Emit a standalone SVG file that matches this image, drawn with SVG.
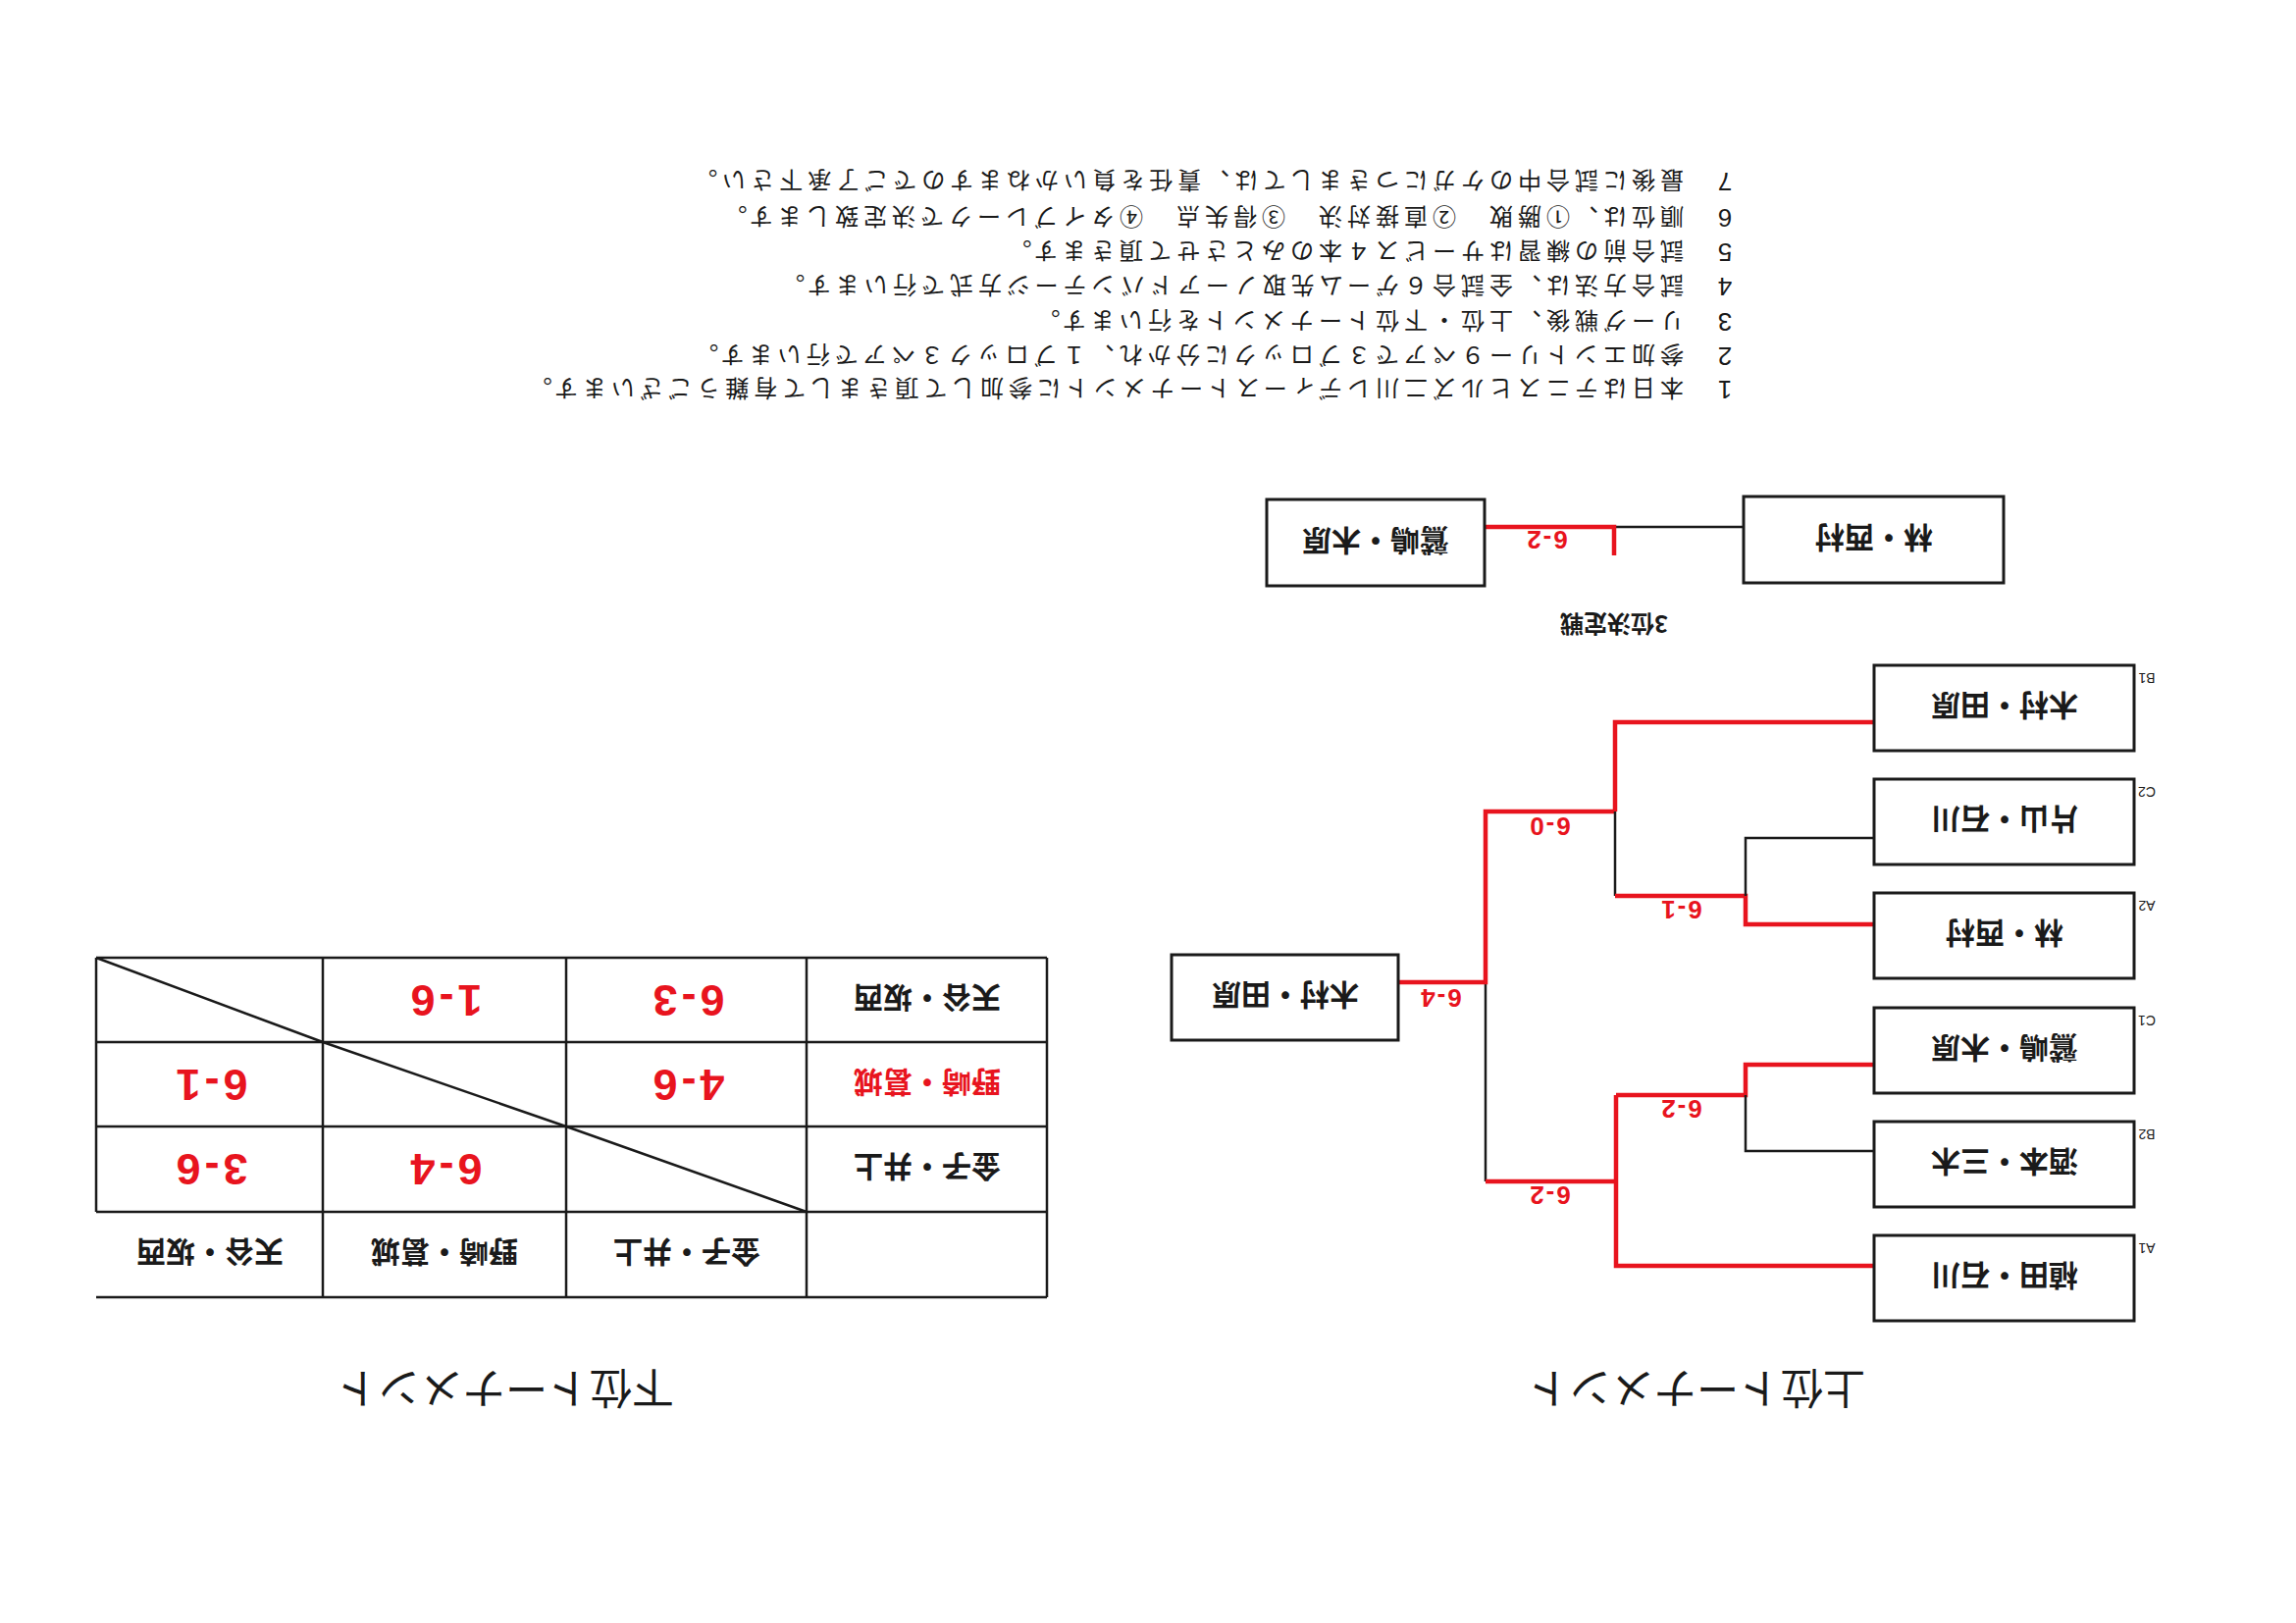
<svg xmlns="http://www.w3.org/2000/svg" width="2340" height="1654" viewBox="0 0 2340 1654">
<style>
.box{fill:#fff;stroke:#1a1a1a;stroke-width:3}
.blk{stroke:#1a1a1a;stroke-width:2.5;fill:none}
.red{stroke:#e8141e;stroke-width:4.5;fill:none}
.tl{stroke:#1a1a1a;stroke-width:2.5;fill:none}
.name{font-family:"Noto Sans CJK JP","Noto Sans CJK SC",sans-serif;font-weight:700;font-size:30px;fill:#1a1a1a;text-anchor:middle;dominant-baseline:central}
.sc{font-family:"Liberation Sans",Arial,sans-serif;font-weight:700;font-size:26px;fill:#e8141e;text-anchor:middle;dominant-baseline:central;letter-spacing:2px}
.big{font-family:"Liberation Sans",Arial,sans-serif;font-weight:700;font-size:45px;fill:#e8141e;text-anchor:middle;dominant-baseline:central;letter-spacing:4px}
.lab{font-family:"Liberation Sans",Arial,sans-serif;font-size:14px;fill:#1a1a1a;text-anchor:middle;dominant-baseline:central}
.note{font-family:"Noto Sans CJK JP","Noto Sans CJK SC",sans-serif;font-size:24px;letter-spacing:5px;fill:#1a1a1a;dominant-baseline:central}
.num{font-family:"Liberation Sans",Arial,sans-serif;font-size:26px;fill:#1a1a1a;text-anchor:middle;dominant-baseline:central}
.head{font-family:"Noto Sans CJK JP","Noto Sans CJK SC",sans-serif;font-size:43px;fill:#1a1a1a;text-anchor:middle;dominant-baseline:central}
.cap{font-family:"Noto Sans CJK JP","Noto Sans CJK SC",sans-serif;font-weight:700;font-size:24px;fill:#1a1a1a;text-anchor:middle;dominant-baseline:central}
</style>
<rect x="0" y="0" width="2340" height="1654" fill="#fff"/>
<g id="page" transform="rotate(180 1170 827)">
  <g id="headings">
    <text class="head" x="611" y="236">上位トーナメント</text>
    <text class="head" x="1825" y="236">下位トーナメント</text>
  </g>
  <g id="connectors">
    <path class="blk" d="M826 653 V450"/>
    <path class="red" d="M915 653 H826 V827 H694"/>
    <path class="blk" d="M694 827 V741"/>
    <path class="red" d="M694 827 V918 H430"/>
    <path class="red" d="M694 741 H561 V712 H430"/>
    <path class="blk" d="M561 741 V800 H430"/>
    <path class="red" d="M826 450 H693"/>
    <path class="red" d="M693 538 V364 H430"/>
    <path class="red" d="M693 538 H561 V569 H430"/>
    <path class="blk" d="M561 538 V481 H430"/>
    <path class="blk" d="M563 1117 H695"/>
    <path class="red" d="M827 1117 H695 V1088"/>
  </g>
  <g id="scores">
    <text class="sc" x="872" y="637">6-4</text>
    <text class="sc" x="761" y="812">6-0</text>
    <text class="sc" x="627" y="727">6-1</text>
    <text class="sc" x="627" y="524">6-2</text>
    <text class="sc" x="761" y="436">6-2</text>
    <text class="sc" x="764" y="1104">6-2</text>
  </g>
  <g id="node-A1"><rect class="box" x="165" y="308" width="265" height="87"/><text class="name" x="297" y="352">植田・石川</text><text class="lab" x="152" y="382">A1</text></g>
  <g id="node-B2"><rect class="box" x="165" y="424" width="265" height="87"/><text class="name" x="297" y="468">酒本・三木</text><text class="lab" x="152" y="498">B2</text></g>
  <g id="node-C1"><rect class="box" x="165" y="540" width="265" height="87"/><text class="name" x="297" y="584">鷲嶋・木原</text><text class="lab" x="152" y="614">C1</text></g>
  <g id="node-A2"><rect class="box" x="165" y="657" width="265" height="87"/><text class="name" x="297" y="701">林・西村</text><text class="lab" x="152" y="731">A2</text></g>
  <g id="node-C2"><rect class="box" x="165" y="773" width="265" height="87"/><text class="name" x="297" y="817">片山・石川</text><text class="lab" x="152" y="847">C2</text></g>
  <g id="node-B1"><rect class="box" x="165" y="889" width="265" height="87"/><text class="name" x="297" y="933">木村・田原</text><text class="lab" x="152" y="963">B1</text></g>
  <g id="node-winner"><rect class="box" x="915" y="594" width="231" height="87"/><text class="name" x="1030" y="638">木村・田原</text></g>
  <g id="node-3rd-left"><rect class="box" x="298" y="1060" width="265" height="88"/><text class="name" x="430" y="1104">林・西村</text></g>
  <g id="node-3rd-right"><rect class="box" x="827" y="1057" width="222" height="88"/><text class="name" x="938" y="1101">鷲嶋・木原</text></g>
  <g id="caption-3rd"><text class="cap" x="695" y="1017">3位決定戦</text></g>
  <g id="table">
    <path class="tl" d="M1273 332 H2242 M1273 419 H2242 M1273 506 H2242 M1273 592 H2242 M1273 678 H2242"/>
    <path class="tl" d="M1273 332 V678 M1518 332 V678 M1763 332 V678 M2011 332 V678 M2242 419 V678"/>
    <path class="tl" d="M1518 419 L1763 506 M1763 506 L2011 592 M2011 592 L2242 678"/>
    <text class="name" x="1640" y="376">金子・井上</text>
    <text class="name" x="1887" y="376">野崎・葛城</text>
    <text class="name" x="2126" y="376">天谷・坂西</text>
    <text class="name" x="1395" y="463">金子・井上</text>
    <text class="big" x="1887" y="463">6-4</text>
    <text class="big" x="2126" y="463">3-6</text>
    <text class="name" x="1395" y="549" style="fill:#e8141e">野崎・葛城</text>
    <text class="big" x="1640" y="549">4-6</text>
    <text class="big" x="2126" y="549">6-1</text>
    <text class="name" x="1395" y="635">天谷・坂西</text>
    <text class="big" x="1640" y="635">6-3</text>
    <text class="big" x="1887" y="635">1-6</text>
  </g>
  <g id="notes">
    <text class="num" x="582" y="1257">1</text><text class="note" x="624" y="1257">本日はテニスヒルズ二川レディーストーナメントに参加して頂きまして有難うございます。</text>
    <text class="num" x="582" y="1291">2</text><text class="note" x="624" y="1291">参加エントリー９ペアで３ブロックに分かれ、１ブロック３ペアで行います。</text>
    <text class="num" x="582" y="1326">3</text><text class="note" x="624" y="1326">リーグ戦後、上位・下位トーナメントを行います。</text>
    <text class="num" x="582" y="1362">4</text><text class="note" x="624" y="1362">試合方法は、全試合６ゲーム先取ノーアドバンテージ方式で行います。</text>
    <text class="num" x="582" y="1397">5</text><text class="note" x="624" y="1397">試合前の練習はサービス４本のみとさせて頂きます。</text>
    <text class="num" x="582" y="1432">6</text><text class="note" x="624" y="1432">順位は、①勝敗　②直接対決　③得失点　④タイブレークで決定致します。</text>
    <text class="num" x="582" y="1469">7</text><text class="note" x="624" y="1469">最後に試合中のケガにつきましては、責任を負いかねますのでご了承下さい。</text>
  </g>
</g>
</svg>
